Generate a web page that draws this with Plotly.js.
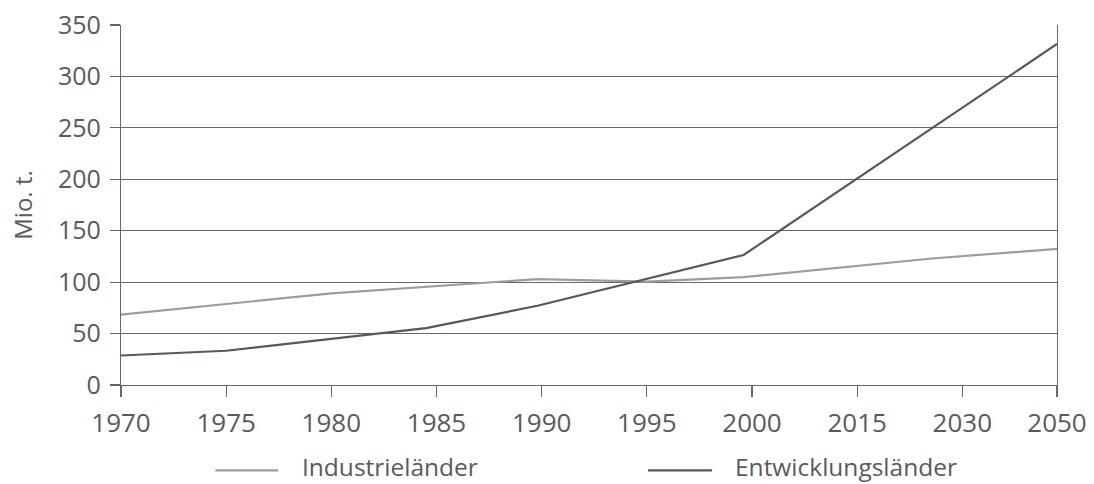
<!DOCTYPE html>
<html>
<head>
<meta charset="utf-8">
<script src="https://cdn.plot.ly/plotly-3.0.1.min.js"></script>
<style>html,body{margin:0;padding:0;background:#fff;}</style>
</head>
<body>
<div id="chart" style="width:1094px;height:484px;"></div>
<script>
// Category labels of the x axis
const xLabels = ['1970','1975','1980','1985','1990','1995','2000','2015','2030','2050'];
// Series (x given in category-index units)
const industName = 'Industrieländer';
const industX = [0, 2, 3.96, 5.0, 5.92, 7.71, 8.9];
const industY = [68.5, 89, 103, 100.5, 104.8, 123, 132.3];
const entwName = 'Entwicklungsländer';
const entwX = [0, 1, 2.9, 3.96, 5.92, 8.9];
const entwY = [28.7, 33.3, 55.3, 77, 126.4, 331.5];
const yTicks = [0, 50, 100, 150, 200, 250, 300, 350];

const textColor = '#575a65';
const gridColor = '#646772';
const lightLine = '#9c9ca2';
const darkLine = '#555862';

const tickPos = xLabels.map((_, i) => i === xLabels.length - 1 ? 8.9 : i);

const traces = [
  {x: industX, y: industY, name: industName, mode: 'lines', type: 'scatter',
   line: {color: lightLine, width: 2.2}, showlegend: false, hoverinfo: 'skip'},
  {x: entwX, y: entwY, name: entwName, mode: 'lines', type: 'scatter',
   line: {color: darkLine, width: 2.2}, showlegend: false, hoverinfo: 'skip'}
];

const layout = {
  width: 1094, height: 484, autosize: false,
  margin: {l: 121, r: 37, t: 25, b: 99},
  paper_bgcolor: '#ffffff', plot_bgcolor: '#ffffff',
  font: {family: 'Open Sans, sans-serif', color: textColor, size: 24},
  xaxis: {
    range: [0, 8.9], tickmode: 'array', tickvals: tickPos, ticktext: xLabels,
    showgrid: false, zeroline: false, showline: true, linecolor: gridColor, linewidth: 1.2,
    ticks: 'outside', ticklen: 11, tickwidth: 1.2, tickcolor: gridColor,
    tickfont: {size: 26, color: textColor}, ticklabelstandoff: 4, fixedrange: true
  },
  yaxis: {
    range: [0, 350], tickmode: 'array', tickvals: yTicks,
    showgrid: true, gridcolor: gridColor, gridwidth: 1.2, zeroline: false,
    showline: true, linecolor: gridColor, linewidth: 1.2, mirror: true,
    ticks: 'outside', ticklen: 10, tickwidth: 1.2, tickcolor: gridColor,
    tickfont: {size: 25, color: textColor}, ticklabelstandoff: 4,
    title: {text: 'Mio. t.', font: {size: 24, color: textColor}, standoff: 18},
    fixedrange: true
  },
  shapes: [
    {type: 'line', xref: 'paper', yref: 'paper', x0: 0.1008, x1: 0.1681, y0: -0.237, y1: -0.237,
     line: {color: lightLine, width: 2.2}},
    {type: 'line', xref: 'paper', yref: 'paper', x0: 0.5631, x1: 0.6315, y0: -0.237, y1: -0.237,
     line: {color: darkLine, width: 2.2}}
  ],
  annotations: [
    {xref: 'paper', yref: 'paper', x: 0.1916, y: -0.2266, xanchor: 'left', yanchor: 'middle',
     text: industName, showarrow: false, font: {size: 24.5, color: textColor}},
    {xref: 'paper', yref: 'paper', x: 0.6539, y: -0.2266, xanchor: 'left', yanchor: 'middle',
     text: entwName, showarrow: false, font: {size: 24.5, color: textColor}}
  ],
  showlegend: false
};

Plotly.newPlot('chart', traces, layout, {displayModeBar: false, staticPlot: true});
</script>
</body>
</html>
